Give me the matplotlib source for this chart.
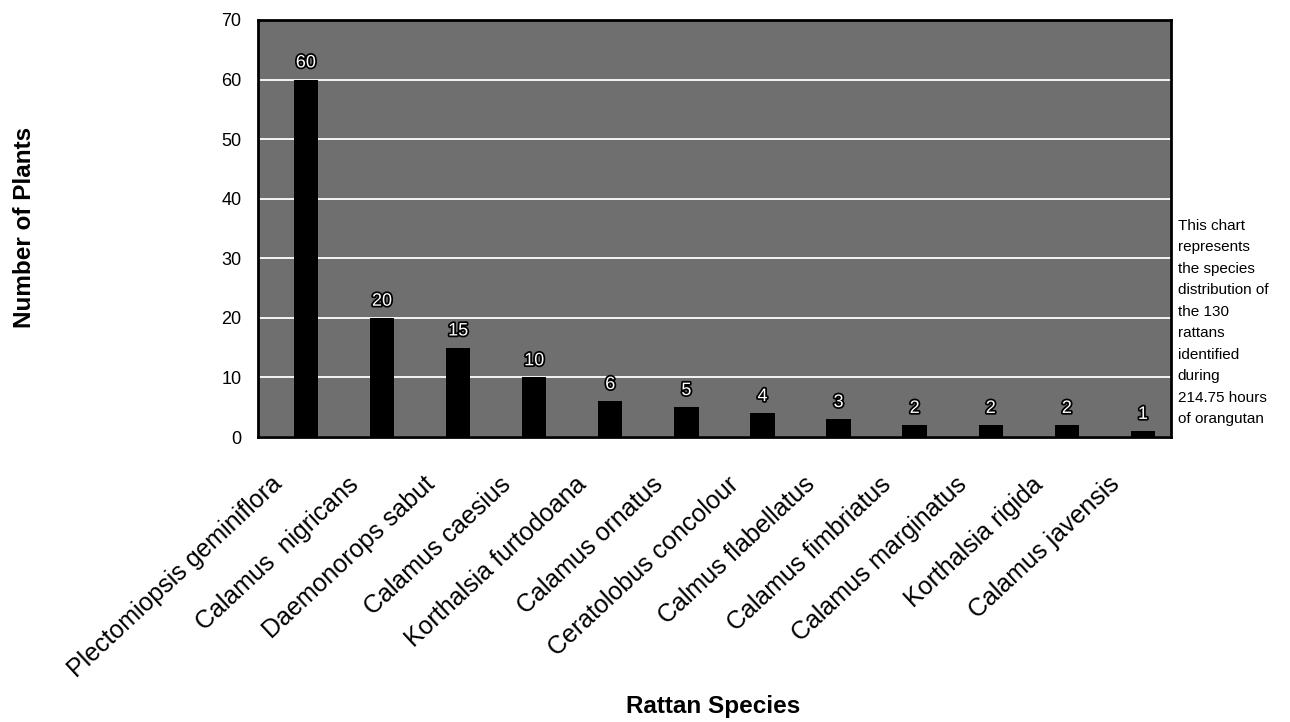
import matplotlib
matplotlib.use("Agg")
import matplotlib.pyplot as plt
import matplotlib.patheffects as pe
from matplotlib.transforms import ScaledTranslation

species = ["Plectomiopsis geminiflora", "Calamus  nigricans", "Daemonorops sabut",
           "Calamus caesius", "Korthalsia furtodoana", "Calamus ornatus",
           "Ceratolobus concolour", "Calmus flabellatus", "Calamus fimbriatus",
           "Calamus marginatus", "Korthalsia rigida", "Calamus javensis"]
counts = [60, 20, 15, 10, 6, 5, 4, 3, 2, 2, 2, 1]
yticks = [0, 10, 20, 30, 40, 50, 60, 70]
note = ("This chart\nrepresents\nthe species\ndistribution of\nthe 130\nrattans\n"
        "identified\nduring\n214.75 hours\nof orangutan")

plt.rcParams['font.family'] = ['Liberation Sans', 'DejaVu Sans']

fig = plt.figure(figsize=(12.9, 7.22), dpi=100)
ax = fig.add_axes([0.2, 0.3947, 0.7078, 0.5776])
ax.set_facecolor('#6f6f6f')

x = list(range(len(species)))
ax.bar(x, counts, width=0.32, color='black', zorder=3)
for xi, v in zip(x, counts):
    ax.annotate(str(v), (xi, v), xytext=(0, 12), textcoords='offset points',
                ha='center', va='center', fontsize=13, color='white', zorder=4,
                path_effects=[pe.withStroke(linewidth=2.5, foreground='black')])

ax.set_xlim(-0.63, 11.37)
ax.set_ylim(0, 70)
ax.set_yticks(yticks)
ax.set_yticklabels([str(t) for t in yticks], fontsize=13)
ax.yaxis.grid(True, color='white', linewidth=1.3, zorder=1)
ax.set_axisbelow(True)
ax.tick_params(axis='both', length=0)
ax.tick_params(axis='y', pad=12)
ax.set_xticks(x)
ax.set_xticklabels(species, rotation=43, ha='right', va='center',
                   rotation_mode='anchor', fontsize=18)
off = ScaledTranslation(-0.27, -0.39, fig.dpi_scale_trans)
for lab in ax.get_xticklabels():
    lab.set_transform(lab.get_transform() + off)

for s in ax.spines.values():
    s.set_linewidth(2)
    s.set_color('black')

fig.text(0.019, 0.685, "Number of Plants", rotation=90, ha='center', va='center',
         fontsize=17.5, fontweight='bold')
fig.text(0.553, 0.021, "Rattan Species", ha='center', va='center',
         fontsize=17.5, fontweight='bold')
fig.text(0.913, 0.697, note, ha='left', va='top', fontsize=11, linespacing=1.68)

fig.savefig("out.png", dpi=100)
